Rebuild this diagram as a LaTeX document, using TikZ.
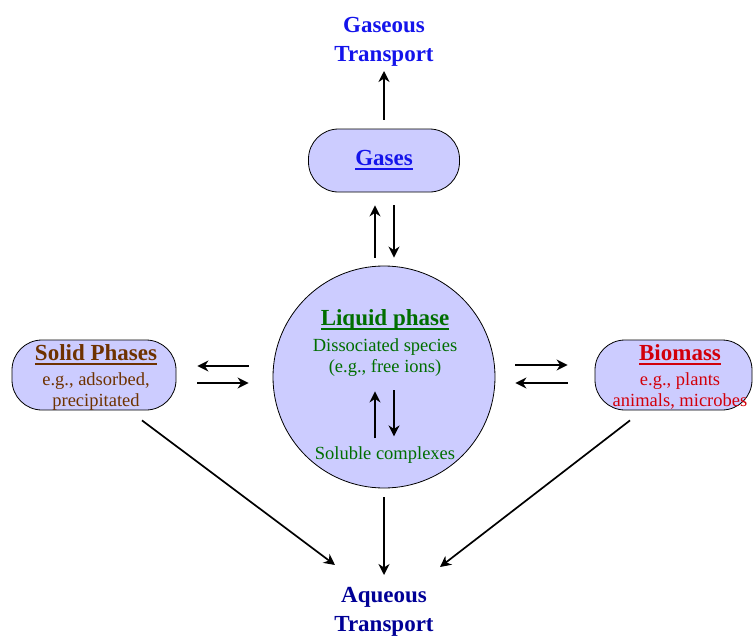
\documentclass[tikz,border=0pt]{standalone}
\usepackage{fontspec}
\setmainfont{Liberation Serif}
\usetikzlibrary{arrows.meta, positioning}
\definecolor{lavender}{RGB}{204,204,255}
\definecolor{gasblue}{RGB}{20,20,235}
\definecolor{aqnavy}{RGB}{0,0,150}
\definecolor{liqgreen}{RGB}{0,110,0}
\definecolor{solbrown}{RGB}{110,50,0}
\definecolor{biored}{RGB}{210,0,10}
\newcommand{\headfont}{\fontsize{23}{29}\selectfont\bfseries}
\newcommand{\bodyfont}{\fontsize{18.5}{21}\selectfont}
\newcommand{\headline}[1]{\setbox0\hbox{#1}\rlap{\raisebox{-4pt}{\rule{\wd0}{1.6pt}}}\box0}

\begin{document}
\begin{tikzpicture}[x=1pt, y=-1pt,
		phase/.style={draw, fill=lavender, line width=0.8pt, rounded corners=30pt},
		flow/.style={-{Stealth[length=11pt, width=11pt, inset=3.5pt]}, line width=1.7pt},
		head/.style={inner sep=0pt, align=center, font=\headfont},
		body/.style={inner sep=0pt, align=center, font=\bodyfont}]
	\useasboundingbox (0,0) rectangle (755,637);
	
	% phases
	\node[phase, minimum width=151pt, minimum height=63pt] (gases) at (384,160.5) {};
	\node[head, text=gasblue] (gastitle) at (384,160) {\headline{Gases}};
	\node[circle, draw, fill=lavender, line width=0.8pt, minimum size=222pt] (liquid) at (384,377) {};
	\node[phase, minimum width=164pt, minimum height=70pt] (solid) at (94,375) {};
	\node[phase, minimum width=157pt, minimum height=70pt] (biomass) at (673.5,375) {};
	
	% texts
	\node[head, text=gasblue, anchor=south] (gaseous) at (384,67) {Gaseous\\Transport};
	\node[head, text=aqnavy, anchor=north] (aqueous) at (384,587) {Aqueous\\Transport};
	\node[head, text=liqgreen] (liqtitle) at (385,320) {\headline{Liquid phase}};
	\node[body, text=liqgreen] (free) at (385,358) {Dissociated species\\(e.g., free ions)};
	\node[body, text=liqgreen] (soluble) at (385,455) {Soluble complexes};
	\node[head, text=solbrown] (soltitle) at (96,355) {\headline{Solid Phases}};
	\node[body, text=solbrown] (soltext) at (96,391.5) {e.g., adsorbed,\\precipitated};
	\node[head, text=biored] (biotitle) at (680,355) {\headline{Biomass}};
	\node[body, text=biored] (biotext) at (680,390.5) {e.g., plants\\animals, microbes};
	
	% exchanges
	\draw[flow, shorten <=9pt, shorten >=4pt] (gases.north) -- (gaseous.south);
	\draw[flow, shorten <=8pt, shorten >=13pt] ([xshift=-9pt]liquid.north) -- ([xshift=-9pt]gases.south);
	\draw[flow, shorten <=13pt, shorten >=8pt] ([xshift=10pt]gases.south) -- ([xshift=10pt]liquid.north);
	\draw[flow] ([xshift=-10pt,yshift=8pt]soluble.north) -- ++(0,-47);
	\draw[flow] ([xshift=9pt,yshift=56pt]soluble.north) -- ++(0,46);
	\draw[flow, shorten <=24pt, shorten >=21pt] ([yshift=11pt]liquid.west) -- ([yshift=9pt]solid.east);
	\draw[flow, shorten <=21pt, shorten >=24pt] ([yshift=-8pt]solid.east) -- ([yshift=-6pt]liquid.west);
	\draw[flow, shorten <=20pt, shorten >=27pt] ([yshift=12pt]liquid.east) -- ([yshift=10pt]biomass.west);
	\draw[flow, shorten <=27pt, shorten >=20pt] ([yshift=-8pt]biomass.west) -- ([yshift=-6pt]liquid.east);
	
	% transport to water
	\draw[flow, shorten <=9pt, shorten >=12pt] (liquid.south) -- (aqueous.north);
	\draw[flow] ([xshift=48pt,yshift=-10pt]solid.south) -- ([xshift=-49pt,yshift=22pt]aqueous.north);
	\draw[flow] ([xshift=-43.5pt,yshift=-10pt]biomass.south) -- ([xshift=56pt,yshift=20pt]aqueous.north);
	
\end{tikzpicture}
\end{document}
